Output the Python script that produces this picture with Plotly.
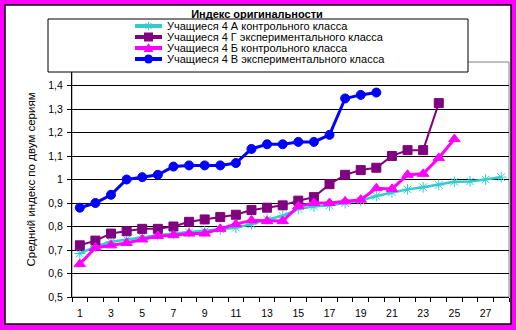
import plotly.graph_objects as go

# ---- data -------------------------------------------------------------
chart_title = "Индекс оригинальности"
y_title = "Средний индекс по двум сериям"

categories = list(range(1, 29))
series_names = [
    "Учащиеся 4 А контрольного класса",
    "Учащиеся 4 Г экспериментального класса",
    "Учащиеся 4 Б контрольного класса",
    "Учащиеся 4 В экспериментального класса",
]
class_4a = [0.685, 0.715, 0.735, 0.745, 0.755, 0.763, 0.77, 0.775, 0.78, 0.788,
            0.795, 0.81, 0.83, 0.845, 0.875, 0.885, 0.89, 0.90, 0.91, 0.93,
            0.945, 0.958, 0.967, 0.977, 0.99, 0.992, 1.0, 1.01]
class_4g = [0.72, 0.74, 0.77, 0.78, 0.79, 0.79, 0.80, 0.82, 0.83, 0.84,
            0.85, 0.87, 0.88, 0.89, 0.91, 0.925, 0.98, 1.02, 1.04, 1.05,
            1.10, 1.125, 1.125, 1.325]
class_4b = [0.64, 0.71, 0.72, 0.73, 0.745, 0.76, 0.763, 0.77, 0.77, 0.79,
            0.81, 0.826, 0.823, 0.823, 0.886, 0.90, 0.90, 0.907, 0.914, 0.963,
            0.96, 1.02, 1.024, 1.092, 1.172]
class_4v = [0.88, 0.90, 0.935, 1.0, 1.01, 1.02, 1.055, 1.06, 1.06, 1.06,
            1.07, 1.13, 1.15, 1.15, 1.16, 1.16, 1.19, 1.345, 1.36, 1.37]

x_tick_values = list(range(1, 28, 2))
y_tick_values = [0.5, 0.6, 0.7, 0.8, 0.9, 1.0, 1.1, 1.2, 1.3, 1.4]
y_tick_text = ["0,5", "0,6", "0,7", "0,8", "0,9", "1", "1,1", "1,2", "1,3", "1,4"]

# ---- geometry helpers (pixel -> paper fraction) ------------------------
W, H = 516, 330
L, R, T, B = 72, 7, 62, 33
PW, PH = W - L - R, H - T - B


def fx(px):
    return (px - L) / PW


def fy(py):
    return (H - B - py) / PH


FONT = "Liberation Sans, Arial, sans-serif"
MAGENTA = "#FF00FF"

styles = [
    dict(color="#33CCCC", symbol="asterisk-open", size=9, width=2.5),
    dict(color="#800080", symbol="square", size=9, width=2),
    dict(color="#FF00FF", symbol="triangle-up", size=10, width=3),
    dict(color="#0000FF", symbol="circle", size=9, width=3),
]
all_values = [class_4a, class_4g, class_4b, class_4v]

fig = go.Figure()
for name, vals, st in zip(series_names, all_values, styles):
    fig.add_trace(go.Scatter(
        x=categories[:len(vals)], y=vals, name=name,
        mode="lines+markers",
        line=dict(color=st["color"], width=st["width"]),
        marker=dict(symbol=st["symbol"], size=st["size"], color=st["color"],
                    line=dict(color=st["color"], width=1)),
        showlegend=False,
    ))

shapes = [
    # white chart area with black frame on the magenta page
    dict(type="rect", xref="paper", yref="paper",
         x0=fx(5), x1=fx(511), y0=fy(324), y1=fy(5),
         fillcolor="white", line=dict(color="black", width=1.5), layer="below"),
    # grey plot-area border
    dict(type="rect", xref="paper", yref="paper", x0=0, x1=1, y0=0, y1=1,
         line=dict(color="#808080", width=1), layer="below"),
    # legend box
    dict(type="rect", xref="paper", yref="paper",
         x0=fx(48), x1=fx(468), y0=fy(72), y1=fy(19),
         fillcolor="white", line=dict(color="black", width=1), layer="above"),
]

annotations = []
rows = [26, 37, 48, 59]
key_x0, key_x1, key_xc, text_x = 135, 162, 148.5, 165
for name, st, ry in zip(series_names, styles, rows):
    c = st["color"]
    shapes.append(dict(type="line", xref="paper", yref="paper",
                       x0=fx(key_x0), x1=fx(key_x1), y0=fy(ry), y1=fy(ry),
                       line=dict(color=c, width=4), layer="above"))
    common = dict(xref="paper", yref="paper", xsizemode="pixel", ysizemode="pixel",
                  xanchor=fx(key_xc), yanchor=fy(ry), layer="above")
    if st["symbol"] == "square":
        shapes.append(dict(type="rect", x0=-4.5, x1=4.5, y0=-4.5, y1=4.5,
                           fillcolor=c, line=dict(color=c, width=0), **common))
    elif st["symbol"] == "circle":
        shapes.append(dict(type="circle", x0=-4.5, x1=4.5, y0=-4.5, y1=4.5,
                           fillcolor=c, line=dict(color=c, width=0), **common))
    elif st["symbol"] == "triangle-up":
        shapes.append(dict(type="path", path="M -5 -4 L 5 -4 L 0 5 Z",
                           fillcolor=c, line=dict(color=c, width=0), **common))
    else:
        shapes.append(dict(type="path",
                           path="M -4 0 L 4 0 M 0 -4 L 0 4 M -3 -3 L 3 3 M -3 3 L 3 -3",
                           line=dict(color=c, width=1), **common))
    annotations.append(dict(xref="paper", yref="paper", x=fx(text_x), y=fy(ry),
                            xanchor="left", yanchor="middle", showarrow=False,
                            text=name, font=dict(family=FONT, size=11, color="black")))

fig.update_layout(
    width=W, height=H,
    margin=dict(l=L, r=R, t=T, b=B, pad=0),
    paper_bgcolor=MAGENTA,
    plot_bgcolor="rgba(0,0,0,0)",
    font=dict(family=FONT, size=10.5, color="black"),
    title=dict(text="<b>" + chart_title + "</b>", x=257 / W, y=1 - 14 / H,
               xanchor="center", yanchor="middle",
               font=dict(family=FONT, size=11, color="black")),
    xaxis=dict(range=[0.5, 28.5], tickmode="array", tickvals=x_tick_values,
               ticks="", showline=True, linecolor="black", linewidth=1,
               showgrid=False, zeroline=False, ticklabelstandoff=6,
               tickfont=dict(family=FONT, size=10.5, color="black"),
               minor=dict(tickmode="linear", tick0=0.5, dtick=1, ticks="outside",
                          ticklen=4, tickcolor="black", showgrid=False)),
    yaxis=dict(range=[0.5, 1.5], tickmode="array", tickvals=y_tick_values,
               ticktext=y_tick_text, ticks="outside", ticklen=4, tickcolor="black",
               showline=True, linecolor="black", linewidth=1, ticklabelstandoff=2,
               showgrid=True, gridcolor="black", gridwidth=1, zeroline=False,
               tickfont=dict(family=FONT, size=10.5, color="black"),
               title=dict(text=y_title, standoff=10,
                          font=dict(family=FONT, size=11.5, color="black"))),
    shapes=shapes,
    annotations=annotations,
    showlegend=False,
)

fig.write_html("out.html")
